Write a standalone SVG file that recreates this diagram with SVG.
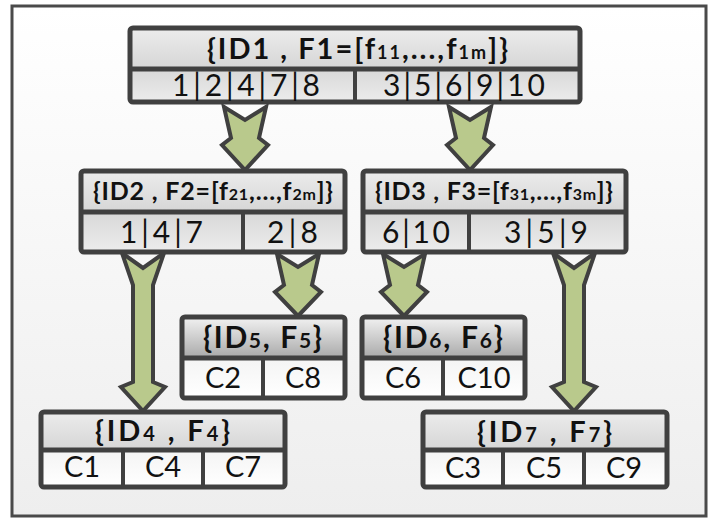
<svg xmlns="http://www.w3.org/2000/svg" width="714" height="518" viewBox="0 0 714 518">
  <defs>
    <linearGradient id="bg" x1="0" y1="0" x2="0" y2="1">
      <stop offset="0" stop-color="#ffffff"/>
      <stop offset="1" stop-color="#eeeeee"/>
    </linearGradient>
    <linearGradient id="hdr" x1="0" y1="0" x2="0" y2="1">
      <stop offset="0" stop-color="#ececec"/>
      <stop offset="1" stop-color="#d6d6d6"/>
    </linearGradient>
    <linearGradient id="hdrDark" x1="0" y1="0" x2="0" y2="1">
      <stop offset="0" stop-color="#f2f2f2"/>
      <stop offset="1" stop-color="#a9a9a9"/>
    </linearGradient>
    <linearGradient id="rowGray" x1="0" y1="0" x2="0" y2="1">
      <stop offset="0" stop-color="#d8d8d8"/>
      <stop offset="1" stop-color="#ececec"/>
    </linearGradient>
    <linearGradient id="rowWhite" x1="0" y1="0" x2="0" y2="1">
      <stop offset="0" stop-color="#f4f4f4"/>
      <stop offset="1" stop-color="#ffffff"/>
    </linearGradient>
  </defs>
  <style>
    .frame { fill: url(#bg); stroke: #4a4a4a; stroke-width: 3; }
    .box { fill: none; stroke: #404040; stroke-width: 5; }
    .sep { stroke: #404040; stroke-width: 5; }
    .split { stroke: #404040; stroke-width: 4; }
    .arrow { fill: #b9c98c; stroke: #404040; stroke-width: 4; stroke-linejoin: miter; }
    .hd { font-family: Lato, "Open Sans", sans-serif; font-weight: bold; fill: #111; }
    .rw { font-family: Lato, "Open Sans", sans-serif; font-weight: normal; fill: #111; }
    .c { text-anchor: middle; font-size: 29px; }
  </style>

  <!-- outer frame -->
  <rect class="frame" x="12" y="6" width="694" height="510"/>

  <!-- connectors: block arrows between levels -->
  <g id="connectors">
    <!-- ID1 -> ID2 -->
    <path class="arrow" d="M224,107 L245,120 L266,107 L259,138 L268,145 L245,170 L222,145 L231,138 Z"/>
    <!-- ID1 -> ID3 -->
    <path class="arrow" d="M449,107 L470,120 L491,107 L484,138 L493,145 L470,170 L447,145 L456,138 Z"/>
    <!-- ID2 -> ID4 -->
    <path class="arrow" d="M122,253 L143,268 L164,253 L153,285 L153,382 L165,387 L143,411 L121,387 L133,382 L133,285 Z"/>
    <!-- ID2 -> ID5 -->
    <path class="arrow" d="M277,254 L298,267 L319,254 L312,285 L321,292 L298,316 L275,292 L284,285 Z"/>
    <!-- ID3 -> ID6 -->
    <path class="arrow" d="M383,254 L404,267 L425,254 L418,285 L427,292 L404,316 L381,292 L390,285 Z"/>
    <!-- ID3 -> ID7 -->
    <path class="arrow" d="M553,253 L574,268 L595,253 L584,285 L584,382 L596,387 L574,411 L552,387 L564,382 L564,285 Z"/>
  </g>

  <!-- root node -->
  <g id="node-id1">
    <rect x="130" y="28" width="450" height="41" fill="url(#hdr)"/>
    <rect x="130" y="69" width="450" height="33" fill="url(#rowGray)"/>
    <rect class="box" x="130" y="28" width="450" height="74" rx="3"/>
    <line class="sep" x1="130" y1="69" x2="580" y2="69"/>
    <line class="split" x1="355" y1="69" x2="355" y2="102"/>
    <text class="hd" x="207" y="59" font-size="29" textLength="301" lengthAdjust="spacing">{ID1 , F1=[f<tspan font-size="18">11</tspan>,...,f<tspan font-size="18">1m</tspan>]}</text>
    <text class="rw" x="172" y="96" font-size="30" textLength="148" lengthAdjust="spacing">1|2|4|7|8</text>
    <text class="rw" x="383" y="96" font-size="30" textLength="162" lengthAdjust="spacing">3|5|6|9|10</text>
  </g>

  <g id="node-id2">
    <rect x="81" y="171" width="264" height="41" fill="url(#hdr)"/>
    <rect x="81" y="212" width="264" height="40" fill="url(#rowGray)"/>
    <rect class="box" x="81" y="171" width="264" height="81" rx="3"/>
    <line class="sep" x1="81" y1="212" x2="345" y2="212"/>
    <line class="split" x1="243" y1="212" x2="243" y2="252"/>
    <text class="hd" x="93" y="200" font-size="25" textLength="240" lengthAdjust="spacing">{ID2 , F2=[f<tspan font-size="16">21</tspan>,...,f<tspan font-size="16">2m</tspan>]}</text>
    <text class="rw" x="120" y="243" font-size="30" textLength="83" lengthAdjust="spacing">1|4|7</text>
    <text class="rw" x="267" y="243" font-size="30" textLength="51" lengthAdjust="spacing">2|8</text>
  </g>

  <g id="node-id3">
    <rect x="363" y="171" width="263" height="41" fill="url(#hdr)"/>
    <rect x="363" y="212" width="263" height="40" fill="url(#rowGray)"/>
    <rect class="box" x="363" y="171" width="263" height="81" rx="3"/>
    <line class="sep" x1="363" y1="212" x2="626" y2="212"/>
    <line class="split" x1="469" y1="212" x2="469" y2="252"/>
    <text class="hd" x="375" y="200" font-size="25" textLength="238" lengthAdjust="spacing">{ID3 , F3=[f<tspan font-size="16">31</tspan>,...,f<tspan font-size="16">3m</tspan>]}</text>
    <text class="rw" x="382" y="243" font-size="30" textLength="68" lengthAdjust="spacing">6|10</text>
    <text class="rw" x="504" y="243" font-size="30" textLength="84" lengthAdjust="spacing">3|5|9</text>
  </g>

  <g id="node-id5">
    <rect x="182" y="317" width="163" height="41" fill="url(#hdrDark)"/>
    <rect x="182" y="358" width="163" height="40" fill="url(#rowWhite)"/>
    <rect class="box" x="182" y="317" width="163" height="81" rx="3"/>
    <line class="sep" x1="182" y1="358" x2="345" y2="358"/>
    <line class="split" x1="263" y1="358" x2="263" y2="398"/>
    <text class="hd" x="203" y="348" font-size="30" textLength="119" lengthAdjust="spacing">{ID<tspan font-size="21">5</tspan>, F<tspan font-size="21">5</tspan>}</text>
    <text class="rw c" x="223" y="388">C2</text>
    <text class="rw c" x="303" y="388">C8</text>
  </g>

  <g id="node-id6">
    <rect x="362" y="317" width="163" height="41" fill="url(#hdrDark)"/>
    <rect x="362" y="358" width="163" height="40" fill="url(#rowWhite)"/>
    <rect class="box" x="362" y="317" width="163" height="81" rx="3"/>
    <line class="sep" x1="362" y1="358" x2="525" y2="358"/>
    <line class="split" x1="443" y1="358" x2="443" y2="398"/>
    <text class="hd" x="383" y="348" font-size="30" textLength="120" lengthAdjust="spacing">{ID<tspan font-size="21">6</tspan>, F<tspan font-size="21">6</tspan>}</text>
    <text class="rw c" x="403" y="388">C6</text>
    <text class="rw c" x="484" y="388">C10</text>
  </g>

  <g id="node-id4">
    <rect x="41" y="412" width="244" height="38" fill="url(#hdr)"/>
    <rect x="41" y="450" width="244" height="37" fill="url(#rowWhite)"/>
    <rect class="box" x="41" y="412" width="244" height="75" rx="3"/>
    <line class="sep" x1="41" y1="450" x2="285" y2="450"/>
    <line class="split" x1="123" y1="450" x2="123" y2="487"/>
    <line class="split" x1="203" y1="450" x2="203" y2="487"/>
    <text class="hd" x="95" y="441" font-size="29" textLength="135" lengthAdjust="spacing">{ID<tspan font-size="20">4</tspan> ,  F<tspan font-size="20">4</tspan>}</text>
    <text class="rw c" x="82" y="477">C1</text>
    <text class="rw c" x="163" y="477">C4</text>
    <text class="rw c" x="243" y="477">C7</text>
  </g>

  <g id="node-id7">
    <rect x="423" y="412" width="244" height="38" fill="url(#hdr)"/>
    <rect x="423" y="450" width="244" height="37" fill="url(#rowWhite)"/>
    <rect class="box" x="423" y="412" width="244" height="75" rx="3"/>
    <line class="sep" x1="423" y1="450" x2="667" y2="450"/>
    <line class="split" x1="503" y1="450" x2="503" y2="487"/>
    <line class="split" x1="584" y1="450" x2="584" y2="487"/>
    <text class="hd" x="477" y="442" font-size="29" textLength="135" lengthAdjust="spacing">{ID<tspan font-size="20">7</tspan> ,  F<tspan font-size="20">7</tspan>}</text>
    <text class="rw c" x="463" y="478">C3</text>
    <text class="rw c" x="544" y="478">C5</text>
    <text class="rw c" x="624" y="478">C9</text>
  </g>
</svg>
